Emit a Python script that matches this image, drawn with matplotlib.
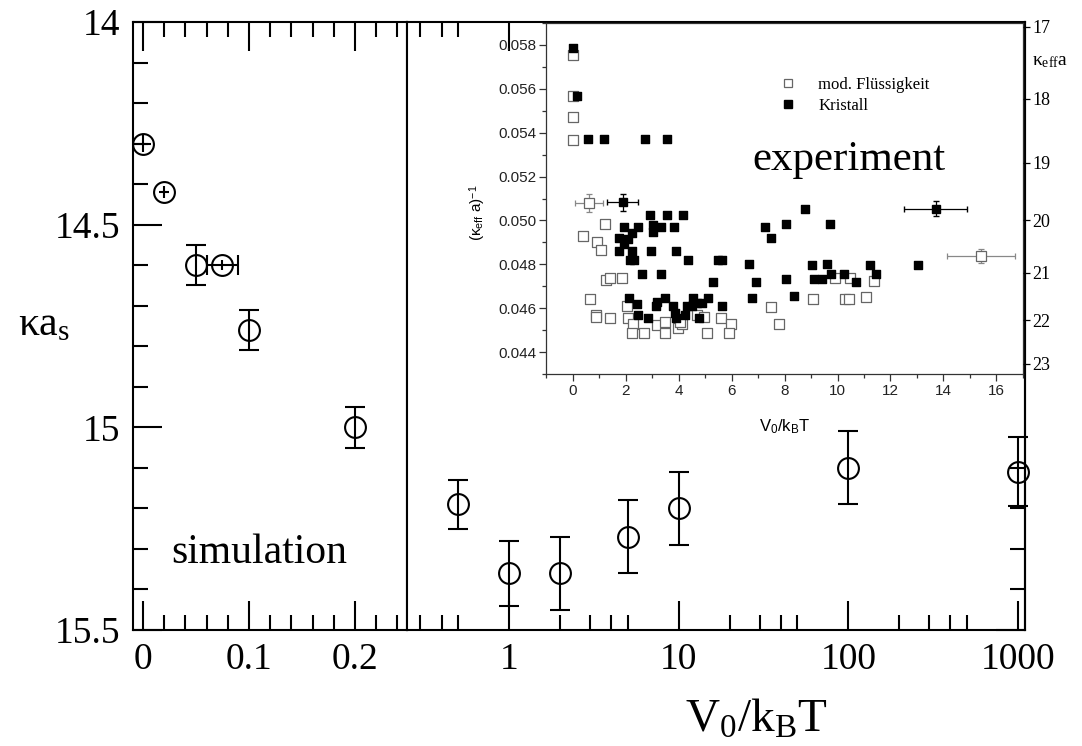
import matplotlib
matplotlib.use('Agg')
import matplotlib.pyplot as plt
from matplotlib.lines import Line2D
from matplotlib.ticker import FixedLocator, MultipleLocator, NullFormatter

plt.rcParams['font.family'] = 'Liberation Serif'
plt.rcParams['mathtext.fontset'] = 'custom'
plt.rcParams['mathtext.rm'] = 'Liberation Serif'
plt.rcParams['mathtext.it'] = 'Liberation Serif:italic'
plt.rcParams['mathtext.sf'] = 'Liberation Sans'

# simulation, small V0/kBT (linear part)
lin_x = [0.0, 0.02, 0.05, 0.075, 0.1, 0.2]
lin_y = [14.30, 14.42, 14.60, 14.60, 14.76, 15.00]
lin_xerr = [0.008, 0.005, 0.0, 0.015, 0.0, 0.0]
lin_yerr = [0.02, 0.015, 0.05, 0.012, 0.05, 0.05]

# simulation, large V0/kBT (log part)
log_x = [0.5, 1, 2, 5, 10, 100, 1000]
log_y = [15.19, 15.36, 15.36, 15.27, 15.20, 15.10, 15.11]
log_yerr = [0.06, 0.08, 0.09, 0.09, 0.09, 0.09, 0.085]

# experiment inset: mod. Fluessigkeit (open squares)
fl_x = [0, 0, 0, 0, 0.40, 1.23, 0.94, 1.06, 1.26, 1.41, 1.85, 0.65, 0.88, 0.88,
        1.42, 2.04, 2.10, 2.27, 2.23, 2.71, 3.17, 3.49, 3.49, 3.99, 4.12, 4.06,
        4.69, 4.96, 5.06, 5.60, 5.97, 5.92, 7.49, 7.81, 9.91, 10.48, 11.38,
        9.07, 10.29, 10.42, 11.08]
fl_y = [0.05755, 0.05565, 0.0547, 0.05368, 0.04931, 0.04985, 0.0490, 0.04865,
        0.0473, 0.04737, 0.04737, 0.04643, 0.04569, 0.04558, 0.04554, 0.0461,
        0.04554, 0.0453, 0.04485, 0.04485, 0.04523, 0.04538, 0.04485, 0.04508,
        0.04528, 0.04538, 0.04569, 0.04562, 0.04485, 0.04554, 0.04528, 0.04485,
        0.04605, 0.04526, 0.04736, 0.04736, 0.04723, 0.04642, 0.04642, 0.04642,
        0.04649]
fl_err_x = [0.63, 15.41]
fl_err_y = [0.0508, 0.04838]
fl_err_dx = [0.52, 1.28]
fl_err_dy = [0.0004, 0.00034]

# experiment inset: Kristall (filled squares)
kr_x = [0, 0.18, 0.58, 1.18, 2.72, 3.57, 2.92, 3.55, 4.16, 1.94, 2.48, 3.05,
        3.34, 3.84, 2.25, 1.75, 2.10, 1.94, 3.05, 1.75, 2.23, 2.98, 3.89, 2.17,
        2.32, 4.37, 5.50, 5.65, 2.61, 3.34, 5.31, 6.66, 6.91, 7.27, 7.48, 8.06,
        8.06, 8.36, 6.76, 5.63, 2.14, 2.42, 2.48, 2.86, 3.14, 3.17, 3.49, 3.80,
        3.87, 3.90, 4.24, 4.50, 4.53, 4.69, 4.87, 5.13, 4.79, 4.33, 8.79, 9.72,
        9.03, 9.60, 11.21, 13.03, 9.13, 9.41, 9.76, 10.26, 10.69, 11.47]
kr_y = [0.05788, 0.05568, 0.05371, 0.05371, 0.05371, 0.05371, 0.05026, 0.05026,
        0.05026, 0.04969, 0.04969, 0.0498, 0.04969, 0.04969, 0.04942, 0.04918,
        0.04915, 0.04892, 0.04946, 0.04862, 0.04862, 0.04862, 0.04862, 0.04818,
        0.04818, 0.04818, 0.04818, 0.04818, 0.04757, 0.04757, 0.04718, 0.04803,
        0.04718, 0.04972, 0.0492, 0.04985, 0.04734, 0.04654, 0.04646, 0.04608,
        0.04646, 0.0462, 0.04569, 0.04557, 0.04611, 0.04626, 0.04646, 0.04608,
        0.04577, 0.04557, 0.04569, 0.04611, 0.04646, 0.04623, 0.04623, 0.04646,
        0.04557, 0.04608, 0.05054, 0.04982, 0.04796, 0.048, 0.04796, 0.04796,
        0.04734, 0.04734, 0.04755, 0.04755, 0.04718, 0.04755]
kr_err_x = [1.89, 13.71]
kr_err_y = [0.05082, 0.05054]
kr_err_dx = [0.6, 1.19]
kr_err_dy = [0.0004, 0.00035]

keff_ticks = [17, 18, 19, 20, 21, 22, 23]

W, H = 1082, 746


def box(x0, y0, x1, y1):
    return [x0 / W, 1 - y1 / H, (x1 - x0) / W, (y1 - y0) / H]


def style_main(ax):
    for s in ax.spines.values():
        s.set_linewidth(1.5)
    ax.tick_params(which='both', direction='in', width=1.5, labelsize=27, pad=9)
    ax.tick_params(which='major', length=21)
    ax.tick_params(which='minor', length=10.5)


fig = plt.figure(figsize=(10.82, 7.46), dpi=100)

# left part, linear
axl = fig.add_axes(box(133, 22, 407, 630))
style_main(axl)
axl.set_xlim(-0.0094, 0.249)
axl.set_ylim(15.5, 14.0)
axl.set_xticks([0, 0.1, 0.2])
axl.set_xticklabels(['0', '0.1', '0.2'])
axl.xaxis.set_minor_locator(FixedLocator([0.02, 0.04, 0.06, 0.08, 0.12, 0.14, 0.16, 0.18, 0.22, 0.24]))
axl.set_yticks([14, 14.5, 15, 15.5])
axl.set_yticklabels(['14', '14.5', '15', '15.5'])
axl.yaxis.set_minor_locator(MultipleLocator(0.1))
axl.tick_params(which='both', top=True, right=False)

for x, y, dx, dy in zip(lin_x, lin_y, lin_xerr, lin_yerr):
    if dy > 0:
        axl.errorbar(x, y, yerr=dy, fmt='none', ecolor='black', elinewidth=1.5,
                     capsize=7 if dy > 0.03 else 0, capthick=1.5, clip_on=False)
    if dx > 0:
        axl.errorbar(x, y, xerr=dx, fmt='none', ecolor='black', elinewidth=1.5,
                     capsize=7 if dx > 0.01 else 0, capthick=1.5, clip_on=False)
axl.plot(lin_x, lin_y, 'o', ms=15, mfc='none', mec='black', mew=1.5, clip_on=False)
axl.text(0.027, 15.31, 'simulation', fontsize=30, va='center', ha='left')

# right part, logarithmic
axr = fig.add_axes(box(407, 22, 1025, 630))
style_main(axr)
axr.set_xscale('log')
axr.set_xlim(0.25, 1100)
axr.set_ylim(15.5, 14.0)
axr.set_xticks([1, 10, 100, 1000])
axr.set_xticklabels(['1', '10', '100', '1000'])
axr.xaxis.set_minor_locator(FixedLocator([0.3, 0.4, 0.5, 2, 3, 4, 5, 20, 30, 40, 50,
                                          200, 300, 400, 500]))
axr.xaxis.set_minor_formatter(NullFormatter())
axr.tick_params(axis='x', which='both', top=True)
axr.tick_params(axis='y', which='both', left=False, right=False, labelleft=False)
sec = axr.secondary_yaxis('right')
sec.set_yticks([15.5])
sec.set_yticks([15.1, 15.2, 15.3, 15.4], minor=True)
sec.set_yticklabels([])
sec.tick_params(which='both', direction='in', width=1.5)
sec.tick_params(which='major', length=21)
sec.tick_params(which='minor', length=10.5)
sec.spines['right'].set_linewidth(1.5)

axr.errorbar(log_x, log_y, yerr=log_yerr, fmt='o', ms=15, mfc='none', mec='black',
             mew=1.5, ecolor='black', elinewidth=1.5, capsize=7, capthick=1.5,
             clip_on=False)

fig.text(756 / W, 1 - 732 / H, r'V$_0$/k$_\mathrm{B}$T', fontsize=34, ha='center',
         va='baseline')
fig.text(18 / W, 1 - 325 / H, r'κa$_\mathrm{s}$', fontsize=30, ha='left', va='center')

# inset
ins = fig.add_axes(box(546, 23, 1023, 374), zorder=3)
ins.set_facecolor('white')
ins.set_xlim(-1, 17)
ins.set_ylim(0.043, 0.059)
for s in ins.spines.values():
    s.set_linewidth(0.9)
    s.set_color('#333333')
ins.xaxis.set_major_locator(MultipleLocator(2))
ins.xaxis.set_minor_locator(MultipleLocator(1))
ins.yaxis.set_major_locator(MultipleLocator(0.002))
ins.yaxis.set_minor_locator(MultipleLocator(0.001))
ins.yaxis.set_major_formatter(plt.FormatStrFormatter('%.3f'))
ins.tick_params(which='both', direction='out', width=0.9, color='#333333',
                labelsize=11, labelcolor='#222222', labelfontfamily='Liberation Sans', pad=2)
ins.tick_params(which='major', length=5)
ins.tick_params(which='minor', length=3)

ins.scatter(fl_x, fl_y, marker='s', s=50, facecolor='white', edgecolor='#666666',
            linewidth=0.9, zorder=2)
ins.errorbar(fl_err_x, fl_err_y, xerr=fl_err_dx, yerr=fl_err_dy, fmt='s', ms=7.3,
             mfc='white', mec='#666666', mew=0.9, ecolor='#888888', elinewidth=0.9,
             capsize=2.5, zorder=2)
ins.scatter(kr_x, kr_y, marker='s', s=38, color='black', zorder=3)
ins.errorbar(kr_err_x, kr_err_y, xerr=kr_err_dx, yerr=kr_err_dy, fmt='s', ms=6.2,
             color='black', elinewidth=0.9, capsize=2.5, zorder=3)

ins.set_xlabel(r'V$_\mathsf{0}$/k$_\mathsf{B}$T', fontsize=12, family='Liberation Sans')
ins.xaxis.set_label_coords(0.50, -0.125)
ins.set_ylabel(r'($\mathsf{\kappa}_\mathsf{eff}$ a)$^\mathsf{-1}$', fontsize=11,
               family='Liberation Sans')
ins.yaxis.set_label_coords(-0.122, 0.46)

ins.text(0.432, 0.61, 'experiment', transform=ins.transAxes, fontsize=31,
         ha='left', va='center')

handles = [Line2D([], [], marker='s', ls='none', ms=6, mfc='white', mec='#666666', mew=0.9),
           Line2D([], [], marker='s', ls='none', ms=6, color='black')]
ins.legend(handles, ['mod. Flüssigkeit', 'Kristall'], loc='upper left',
           bbox_to_anchor=(0.455, 0.87), frameon=False, fontsize=12,
           handletextpad=0.8, labelspacing=0.3, borderpad=0)

ink = ins.twinx()
ink.set_ylim(0.043, 0.059)
ink.set_yticks([1 / k for k in keff_ticks])
ink.set_yticklabels([str(k) for k in keff_ticks])
ink.tick_params(direction='out', length=5, width=0.9, labelsize=13, pad=2)
for s in ink.spines.values():
    s.set_visible(False)
fig.text(1032 / W, 1 - 62 / H, r'κ$_\mathrm{eff}$a', fontsize=14, ha='left', va='center')

fig.savefig('out.png', dpi=100, facecolor='white')
